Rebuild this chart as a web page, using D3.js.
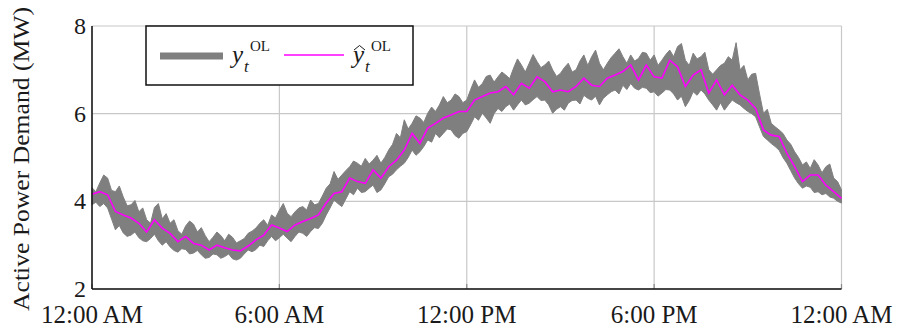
<!DOCTYPE html>
<html>
<head>
<meta charset="utf-8">
<script src="https://cdn.jsdelivr.net/npm/d3@7"></script>
<style>
  body { margin: 0; background: #fff; }
  text { font-family: "Liberation Serif", "DejaVu Serif", serif; fill: #1a1a1a; }
</style>
</head>
<body>
<svg id="grafico"></svg>
<script>
// hora do dia de cada amostra: previsão a cada 15 min, medição a cada 7,5 min
let horasPrev = d3.range(0, 24.01, 0.25);
let horasMed = d3.range(0, 24.01, 0.125);

// previsão ŷ (linha magenta)
let previsao = [4.16,4.22,4.15,3.77,3.69,3.62,3.50,3.30,3.58,3.39,3.27,3.08,3.20,3.04,3.00,2.89,
  3.00,2.94,2.89,2.87,2.98,3.12,3.23,3.46,3.39,3.31,3.46,3.54,3.61,3.69,3.96,4.18,
  4.22,4.53,4.45,4.41,4.72,4.53,4.79,4.94,5.17,5.55,5.32,5.67,5.78,5.90,5.97,6.05,
  6.05,6.31,6.39,6.47,6.50,6.62,6.43,6.69,6.58,6.84,6.73,6.50,6.54,6.50,6.62,6.81,
  6.65,6.62,6.81,6.88,6.96,7.11,6.77,7.11,6.84,6.81,7.22,7.07,6.62,6.88,7.00,6.47,
  6.77,6.43,6.65,6.43,6.31,6.12,5.63,5.51,5.48,5.10,4.79,4.45,4.60,4.60,4.37,4.22,4.07];

// medição y (faixa cinza): envelope superior
let medidoMax = [
  4.31,4.22, 4.42,4.60, 4.53,4.25, 4.22,4.35, 4.10,3.90, 3.92,4.02, 3.76,3.85, 3.58,3.50,
  3.86,3.95, 3.60,3.72, 3.50,3.58, 3.33,3.25, 3.44,3.55, 3.48,3.30, 3.40,3.22, 3.08,3.18,
  3.30,3.22, 3.10,3.25, 3.18,3.05, 3.10,3.15, 3.27,3.32, 3.39,3.50, 3.58,3.45, 3.69,3.62,
  3.80,3.95, 3.73,3.65, 3.76,3.85, 3.88,3.80, 4.03,3.92, 3.95,4.12, 4.30,4.40, 4.68,4.50,
  4.60,4.70, 4.79,4.92, 4.87,4.80, 4.98,4.85, 4.94,5.05, 4.87,5.00, 5.17,5.30, 5.55,5.45,
  5.86,5.65, 5.78,5.95, 5.90,5.80, 6.01,6.15, 6.05,6.20, 6.39,6.25, 6.31,6.45, 6.39,6.25,
  6.31,6.55, 6.77,6.60, 6.69,6.85, 6.88,6.72, 6.84,6.95, 6.88,6.80, 7.04,7.25, 7.11,6.95,
  7.15,7.35, 7.19,7.05, 7.11,7.20, 7.00,6.85, 6.92,7.05, 7.15,6.95, 7.00,7.20, 7.34,7.10,
  7.30,7.45, 7.15,7.00, 7.15,7.28, 7.38,7.48, 7.30,7.15, 7.34,7.20, 7.26,7.40, 7.38,7.22,
  7.34,7.10, 7.22,7.35, 7.45,7.30, 7.53,7.60, 7.22,7.10, 7.38,7.25, 7.30,7.40, 7.00,6.90,
  7.00,7.10, 7.15,7.30, 7.22,7.62, 7.00,7.10, 6.77,6.90, 6.92,6.45, 6.01,6.10, 5.78,5.70,
  5.63,5.55, 5.40,5.30, 5.13,5.00, 4.83,4.90, 4.75,4.95, 4.83,4.65, 4.79,4.85, 4.53,4.45,
  4.26];

// medição y (faixa cinza): envelope inferior
let medidoMin = [
  3.92,3.98, 3.88,3.95, 3.85,3.60, 3.35,3.45, 3.28,3.20, 3.23,3.30, 3.17,3.10, 3.08,3.15,
  3.25,3.10, 3.00,3.08, 2.96,2.88, 2.84,2.92, 2.90,2.80, 2.82,2.88, 2.78,2.70, 2.72,2.80,
  2.78,2.70, 2.74,2.80, 2.69,2.66, 2.70,2.80, 2.89,2.85, 2.90,3.00, 2.97,3.10, 3.20,3.10,
  3.17,3.25, 3.16,3.08, 3.20,3.30, 3.27,3.20, 3.31,3.40, 3.38,3.50, 3.69,3.85, 4.03,3.95,
  3.88,4.05, 4.22,4.15, 4.30,4.20, 4.22,4.30, 4.37,4.20, 4.26,4.40, 4.56,4.62, 4.72,4.80,
  4.87,5.00, 5.17,5.05, 5.13,5.25, 5.40,5.35, 5.55,5.45, 5.55,5.65, 5.63,5.50, 5.44,5.55,
  5.59,5.75, 5.93,5.85, 6.01,5.90, 5.78,6.00, 6.12,6.05, 6.16,6.22, 6.08,6.20, 6.31,6.20,
  6.24,6.32, 6.39,6.30, 6.31,6.20, 6.01,6.10, 6.16,6.08, 6.24,6.30, 6.31,6.22, 6.42,6.35,
  6.31,6.40, 6.20,6.35, 6.43,6.50, 6.54,6.45, 6.65,6.55, 6.69,6.58, 6.54,6.60, 6.58,6.48,
  6.50,6.40, 6.47,6.55, 6.54,6.45, 6.31,6.40, 6.16,6.30, 6.50,6.42, 6.54,6.45, 6.31,6.20,
  6.08,6.25, 6.08,6.20, 6.31,6.25, 6.20,6.12, 6.05,6.00, 5.93,5.70, 5.48,5.40, 5.32,5.25,
  5.17,5.00, 4.87,4.70, 4.53,4.40, 4.30,4.35, 4.32,4.20, 4.22,4.15, 4.18,4.10, 4.07,4.00,
  3.96];

let ticksX = [0, 6, 12, 18, 24];
let rotulosX = ['12:00 AM', '6:00 AM', '12:00 PM', '6:00 PM', '12:00 AM'];
let ticksY = [2, 4, 6, 8];

let largura = 899, altura = 329;
let svg = d3.select('#grafico')
  .attr('width', largura)
  .attr('height', altura);

svg.append('rect').attr('width', largura).attr('height', altura).attr('fill', '#fff');

let esq = 92, dir = 841.5, topo = 26, base = 289;

let fnX = d3.scaleLinear().domain([0, 24]).range([esq, dir]);
let fnY = d3.scaleLinear().domain([2, 8]).range([base, topo]);

// grade
let grade = svg.append('g');
grade.selectAll('.gx')
  .data(ticksX)
  .enter()
  .append('line')
  .attr('x1', d => fnX(d)).attr('x2', d => fnX(d))
  .attr('y1', topo).attr('y2', base)
  .attr('stroke', '#c8c8c8').attr('stroke-width', 1.2);
grade.selectAll('.gy')
  .data(ticksY)
  .enter()
  .append('line')
  .attr('x1', esq).attr('x2', dir)
  .attr('y1', d => fnY(d)).attr('y2', d => fnY(d))
  .attr('stroke', '#c8c8c8').attr('stroke-width', 1.2);

// marcas curtas internas
grade.selectAll('.tx')
  .data(ticksX)
  .enter()
  .append('line')
  .attr('x1', d => fnX(d)).attr('x2', d => fnX(d))
  .attr('y1', base).attr('y2', base - 5)
  .attr('stroke', '#8a8a8a').attr('stroke-width', 1.2);

let medicao = horasMed.map((h, i) => ({h: h, max: medidoMax[i], min: medidoMin[i]}));
let prev = horasPrev.map((h, i) => ({h: h, p: previsao[i]}));

// faixa cinza
let area = d3.area()
  .x(d => fnX(d.h))
  .y0(d => fnY(d.min))
  .y1(d => fnY(d.max));
svg.append('path')
  .datum(medicao)
  .attr('d', area)
  .attr('fill', '#7f7f7f')
  .attr('stroke', '#7f7f7f')
  .attr('stroke-width', 1)
  .attr('stroke-linejoin', 'miter');

// linha magenta
let linha = d3.line()
  .x(d => fnX(d.h))
  .y(d => fnY(d.p));
svg.append('path')
  .datum(prev)
  .attr('d', linha)
  .attr('fill', 'none')
  .attr('stroke', '#ff00ff')
  .attr('stroke-width', 1.6);

// eixos (esquerda e base pretos)
svg.append('line')
  .attr('x1', esq).attr('x2', esq).attr('y1', topo).attr('y2', base)
  .attr('stroke', '#111').attr('stroke-width', 1.5);
svg.append('line')
  .attr('x1', esq).attr('x2', dir).attr('y1', base).attr('y2', base)
  .attr('stroke', '#111').attr('stroke-width', 1.5);

svg.selectAll('.rotuloX')
  .data(ticksX)
  .enter()
  .append('text')
  .attr('x', d => fnX(d))
  .attr('y', 323)
  .attr('text-anchor', 'middle')
  .attr('font-size', 25)
  .text((d, i) => rotulosX[i]);

svg.selectAll('.rotuloY')
  .data(ticksY)
  .enter()
  .append('text')
  .attr('x', 86)
  .attr('y', d => fnY(d))
  .attr('dy', '0.33em')
  .attr('text-anchor', 'end')
  .attr('font-size', 24)
  .text(d => d);

svg.append('text')
  .attr('transform', 'translate(29,311) rotate(-90)')
  .attr('text-anchor', 'start')
  .attr('font-size', 23.5)
  .attr('textLength', 304)
  .attr('lengthAdjust', 'spacingAndGlyphs')
  .text('Active Power Demand (MW)');

// legenda
let leg = svg.append('g');
leg.append('rect')
  .attr('x', 146).attr('y', topo).attr('width', 267).attr('height', 59)
  .attr('fill', '#fff').attr('stroke', '#111').attr('stroke-width', 1.5);
leg.append('line')
  .attr('x1', 160).attr('x2', 223).attr('y1', 56).attr('y2', 56)
  .attr('stroke', '#7f7f7f').attr('stroke-width', 7);
leg.append('line')
  .attr('x1', 284).attr('x2', 344).attr('y1', 55).attr('y2', 55)
  .attr('stroke', '#ff00ff').attr('stroke-width', 1.6);

function simbolo(x, chapeu) {
  leg.append('text').attr('x', x).attr('y', 63)
    .attr('font-size', 25).attr('font-style', 'italic').text('y');
  leg.append('text').attr('x', x + 12).attr('y', 72)
    .attr('font-size', 17).attr('font-style', 'italic').text('t');
  leg.append('text').attr('x', x + 18).attr('y', 51)
    .attr('font-size', 15).text('OL');
  if (chapeu) {
    leg.append('path')
      .attr('d', `M${x + 1},${50} L${x + 6.5},${45.5} L${x + 12},${50}`)
      .attr('fill', 'none').attr('stroke', '#1a1a1a').attr('stroke-width', 1);
  }
}
simbolo(232, false);
simbolo(353, true);
</script>
</body>
</html>
